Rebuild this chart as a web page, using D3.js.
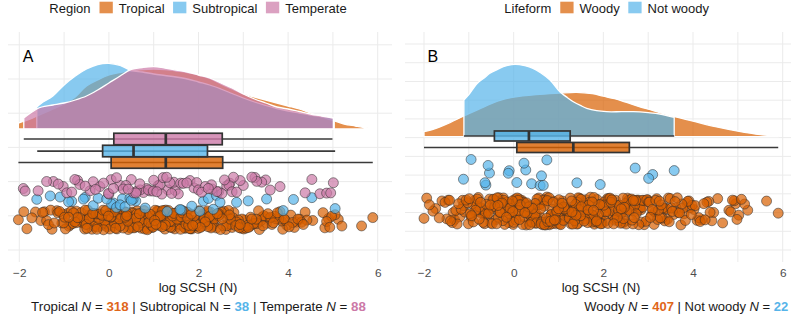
<!DOCTYPE html>
<html><head><meta charset="utf-8">
<script src="https://cdn.jsdelivr.net/npm/d3@7"></script>
<style>
body{margin:0;background:#fff}
svg{display:block}
text{font-family:"Liberation Sans",Arial,Helvetica,sans-serif}
</style>
</head><body>
<svg id="chart" width="796" height="318"></svg>
<script>
// ---------------- DATA ----------------
const axisTicks = [-2, 0, 2, 4, 6];
const regionGroups = ["Tropical", "Subtropical", "Temperate"];
const lifeformGroups = ["Woody", "Not woody"];
const regionCounts = [318, 38, 88];
const lifeformCounts = [407, 22];

const tropicalValues = [-2.02,-1.9,-1.83,-1.72,-1.64,-1.52,
-1.48,-1.44,-1.39,-1.35,-1.3,-1.27,-1.22,-1.16,-1.14,-1.1,-1.05,-1.03,-1.01,
-0.99,-0.97,-0.93,-0.9,-0.89,-0.86,-0.84,-0.8,-0.79,-0.76,-0.73,-0.72,-0.7,-0.66,-0.65,-0.62,-0.6,-0.58,-0.57,-0.54,-0.53,-0.51,
-0.49,-0.47,-0.45,-0.44,-0.41,-0.4,-0.38,-0.36,-0.35,-0.32,-0.31,-0.29,-0.27,-0.26,-0.23,-0.22,-0.2,-0.18,-0.17,-0.15,-0.13,-0.12,-0.1,-0.08,-0.07,-0.05,-0.04,-0.02,-0.01,
0.01,0.02,0.04,0.05,0.07,0.09,0.1,0.12,0.13,0.15,0.17,0.18,0.2,0.21,0.23,0.25,0.26,0.28,0.29,0.31,0.32,0.34,0.36,0.37,0.39,0.4,0.42,0.43,0.45,0.46,0.48,0.49,
0.51,0.52,0.53,0.55,0.56,0.58,0.59,0.6,0.62,0.63,0.65,0.66,0.68,0.69,0.7,0.72,0.73,0.75,0.76,0.77,0.79,0.8,0.82,0.83,0.85,0.86,0.87,0.89,0.9,0.92,0.93,0.95,0.96,0.97,0.99,
1.01,1.02,1.03,1.05,1.06,1.08,1.09,1.1,1.12,1.13,1.15,1.16,1.18,1.19,1.2,1.22,1.23,1.25,1.26,1.27,1.29,1.3,1.32,1.33,1.35,1.36,1.37,1.39,1.4,1.42,1.43,1.45,1.46,1.47,1.49,
1.51,1.52,1.54,1.55,1.57,1.58,1.6,1.61,1.63,1.64,1.66,1.67,1.69,1.7,1.72,1.73,1.75,1.76,1.78,1.79,1.81,1.82,1.84,1.85,1.87,1.88,1.9,1.91,1.93,1.94,1.96,1.97,1.99,
2.01,2.03,2.04,2.06,2.08,2.09,2.11,2.13,2.15,2.16,2.18,2.2,2.21,2.23,2.25,2.27,2.28,2.3,2.32,2.33,2.35,2.37,2.39,2.4,2.42,2.44,2.45,2.47,2.49,
2.51,2.53,2.55,2.57,2.59,2.61,2.63,2.65,2.67,2.69,2.71,2.73,2.75,2.77,2.79,2.81,2.83,2.85,2.87,2.89,2.91,2.93,2.95,2.97,2.99,
3.01,3.04,3.06,3.09,3.11,3.14,3.16,3.19,3.21,3.24,3.26,3.29,3.31,3.34,3.36,3.39,3.41,3.44,3.46,3.49,
3.52,3.55,3.58,3.61,3.64,3.67,3.7,3.73,3.76,3.79,3.82,3.85,3.88,3.91,3.94,3.97,
4.02,4.06,4.1,4.14,4.18,4.22,4.26,4.3,4.34,4.38,4.42,
4.55,4.78,4.82,4.86,4.9,4.93,4.97,5.05,5.12,5.2,5.64,5.89];

const subtropicalValues = [-1.61,-1.31,-1.09,-0.9,-0.83,-0.57,-0.53,-0.35,-0.24,-0.05,0.06,0.1,0.17,0.25,0.3,0.36,0.47,0.5,0.54,0.6,
0.81,1.3,1.59,1.62,1.85,2.03,2.11,2.22,2.33,2.4,2.48,2.85,3.11,3.52,3.89,4.12,4.53,5.05];

const temperateValues = [-1.91,-1.87,-1.58,-1.39,-1.24,-1.13,-1.02,-0.94,-0.83,-0.76,-0.7,-0.65,-0.53,-0.42,-0.35,-0.3,-0.2,-0.12,-0.01,0.0,0.05,0.1,
0.17,0.25,0.32,0.38,0.43,0.5,0.55,0.6,0.62,0.69,0.7,0.77,0.84,0.88,0.92,0.99,1.0,1.07,1.1,1.14,1.18,1.21,
1.29,1.32,1.36,1.4,1.45,1.48,1.55,1.6,1.66,1.74,1.81,1.9,1.96,2.0,2.07,2.15,2.22,2.29,2.3,2.41,2.45,2.52,
2.58,2.63,2.68,2.7,2.75,2.78,2.85,2.93,3.0,3.19,3.26,3.3,3.41,3.5,3.6,3.82,4.38,4.53,4.71,4.86,4.95,5.01];

const woodyValues = [-2.0,-1.94,-1.88,-1.8,-1.74,-1.66,-1.6,-1.53,
-1.49,-1.46,-1.43,-1.41,-1.37,-1.35,-1.32,-1.29,-1.26,-1.23,-1.2,-1.17,-1.14,-1.12,-1.09,-1.06,-1.03,-1.01,
-0.99,-0.97,-0.95,-0.94,-0.92,-0.9,-0.88,-0.86,-0.85,-0.83,-0.81,-0.79,-0.77,-0.76,-0.74,-0.72,-0.7,-0.68,-0.67,-0.65,-0.63,-0.61,-0.59,-0.58,-0.56,-0.54,-0.52,-0.51,
-0.49,-0.48,-0.46,-0.45,-0.44,-0.42,-0.41,-0.39,-0.38,-0.37,-0.35,-0.34,-0.33,-0.31,-0.3,-0.29,-0.27,-0.26,-0.24,-0.23,-0.22,-0.2,-0.19,-0.18,-0.16,-0.15,-0.14,-0.12,-0.11,-0.1,-0.08,-0.07,-0.06,-0.04,-0.03,-0.02,-0.01,
0,0.01,0.02,0.04,0.05,0.06,0.07,0.08,0.1,0.11,0.12,0.13,0.14,0.16,0.17,0.18,0.19,0.2,0.22,0.23,0.24,0.25,0.26,0.28,0.29,0.3,0.31,0.32,0.34,0.35,0.36,0.37,0.38,0.4,0.41,0.42,0.43,0.44,0.46,0.47,0.48,0.49,
0.5,0.51,0.52,0.53,0.55,0.56,0.57,0.58,0.59,0.6,0.61,0.62,0.64,0.65,0.66,0.67,0.68,0.69,0.7,0.71,0.73,0.74,0.75,0.76,0.77,0.78,0.79,0.8,0.82,0.83,0.84,0.85,0.86,0.87,0.88,0.89,0.91,0.92,0.93,0.94,0.95,0.96,0.97,0.99,
1.0,1.01,1.02,1.03,1.05,1.06,1.07,1.08,1.09,1.1,1.11,1.12,1.14,1.15,1.16,1.17,1.18,1.19,1.2,1.21,1.23,1.24,1.25,1.26,1.27,1.28,1.29,1.3,1.32,1.33,1.34,1.35,1.36,1.37,1.38,1.39,1.41,1.42,1.43,1.44,1.45,1.46,1.47,1.49,
1.5,1.51,1.52,1.53,1.55,1.56,1.57,1.58,1.59,1.6,1.61,1.62,1.64,1.65,1.66,1.67,1.68,1.69,1.7,1.71,1.73,1.74,1.75,1.76,1.77,1.78,1.79,1.8,1.82,1.83,1.84,1.85,1.86,1.87,1.88,1.89,1.91,1.92,1.93,1.94,1.95,1.96,1.97,1.99,
2.01,2.02,2.04,2.05,2.06,2.08,2.09,2.1,2.12,2.13,2.14,2.15,2.17,2.18,2.19,2.21,2.22,2.23,2.25,2.26,2.27,2.28,2.3,2.31,2.32,2.34,2.35,2.36,2.38,2.39,2.4,2.41,2.43,2.44,2.45,2.46,2.47,2.48,2.49,
2.51,2.52,2.54,2.55,2.57,2.58,2.6,2.61,2.63,2.64,2.66,2.67,2.69,2.7,2.72,2.73,2.75,2.76,2.78,2.79,2.81,2.82,2.84,2.85,2.87,2.88,2.9,2.91,2.93,2.95,2.97,2.99,
3.01,3.03,3.05,3.07,3.09,3.11,3.13,3.15,3.17,3.19,3.21,3.23,3.25,3.27,3.29,3.31,3.33,3.35,3.37,3.39,3.41,3.43,3.45,3.47,3.49,
3.52,3.54,3.57,3.6,3.62,3.65,3.67,3.7,3.73,3.75,3.78,3.8,3.83,3.86,3.88,3.91,3.93,3.96,3.98,
4.02,4.05,4.09,4.13,4.16,4.2,4.24,4.27,4.31,4.35,4.38,4.42,4.46,
4.55,4.66,4.8,4.84,4.88,4.92,4.95,4.98,5.02,5.08,5.15,5.22,5.64,5.9];

const notWoodyValues = [-1.12,-0.95,-0.64,-0.62,-0.57,-0.54,-0.12,-0.1,0.07,0.23,0.27,0.4,0.59,0.62,0.66,0.74,1.41,1.93,2.71,3.01,3.1,3.58];

// box stats: [min, q1, median, q3, max]
const tropicalBox = [-2.02, 0.05, 1.27, 2.54, 5.89];
const subtropicalBox = [-1.6, -0.14, 0.55, 2.2, 5.05];
const temperateBox = [-1.9, 0.11, 1.27, 2.53, 4.99];
const woodyBox = [-2.0, 0.07, 1.33, 2.58, 5.9];
const notWoodyBox = [-1.11, -0.43, 0.34, 1.26, 3.58];

// density curves [x, relative density]
const tropicalDensity = [[-2.02,0.06],[-1.87,0.08],[-1.75,0.10],[-1.5,0.15],[-1.25,0.20],[-1.0,0.25],[-0.75,0.32],[-0.5,0.43],[-0.25,0.49],[0,0.54],[0.25,0.565],[0.5,0.58],[0.75,0.595],[1.0,0.60],[1.25,0.595],[1.5,0.58],[1.75,0.565],[2.0,0.54],[2.25,0.505],[2.5,0.45],[2.75,0.40],[3.0,0.35],[3.25,0.32],[3.5,0.29],[3.75,0.26],[4.0,0.23],[4.25,0.20],[4.5,0.16],[4.75,0.12],[5.0,0.085],[5.25,0.05],[5.5,0.03],[5.7,0.015],[5.89,0.005]];
const subtropicalDensity = [[-1.61,0.22],[-1.5,0.26],[-1.25,0.33],[-1.0,0.44],[-0.75,0.53],[-0.5,0.60],[-0.25,0.645],[0,0.657],[0.25,0.635],[0.5,0.585],[0.75,0.57],[1.0,0.55],[1.25,0.535],[1.5,0.52],[1.75,0.50],[2.0,0.47],[2.25,0.44],[2.5,0.40],[2.75,0.355],[3.0,0.31],[3.25,0.27],[3.5,0.235],[3.75,0.205],[4.0,0.18],[4.25,0.16],[4.5,0.14],[4.75,0.125],[5.03,0.11]];
const temperateDensity = [[-1.9,0.11],[-1.75,0.16],[-1.61,0.20],[-1.5,0.22],[-1.25,0.24],[-1.0,0.26],[-0.75,0.29],[-0.5,0.33],[-0.25,0.39],[0,0.46],[0.25,0.53],[0.5,0.597],[0.75,0.615],[1.0,0.623],[1.25,0.61],[1.5,0.59],[1.75,0.57],[2.0,0.54],[2.25,0.51],[2.5,0.46],[2.75,0.41],[3.0,0.35],[3.25,0.30],[3.5,0.26],[3.75,0.22],[4.0,0.20],[4.25,0.175],[4.5,0.15],[4.75,0.13],[5.01,0.11]];
const woodyDensity = [[-2.0,0.05],[-1.75,0.08],[-1.5,0.125],[-1.1,0.21],[-0.75,0.28],[-0.5,0.33],[-0.25,0.37],[0,0.395],[0.5,0.42],[1.0,0.435],[1.4,0.444],[1.75,0.43],[2.0,0.405],[2.25,0.38],[2.5,0.345],[2.8,0.30],[3.0,0.275],[3.5,0.21],[4.0,0.155],[4.5,0.10],[5.0,0.055],[5.5,0.02],[5.9,0.005]];
const notWoodyDensity = [[-1.11,0.367],[-1.0,0.42],[-0.82,0.53],[-0.65,0.59],[-0.53,0.634],[-0.35,0.675],[-0.23,0.70],[0.03,0.724],[0.25,0.71],[0.43,0.684],[0.6,0.64],[0.81,0.567],[1.03,0.45],[1.2,0.39],[1.33,0.35],[1.5,0.31],[1.63,0.284],[1.85,0.26],[2.07,0.25],[2.4,0.25],[2.67,0.25],[3.0,0.24],[3.26,0.227],[3.58,0.194]];

// ---------------- STYLE ----------------
const ORANGE = "#D86000", BLUE = "#56B4E9", PINK = "#CC79A7";
const svg = d3.select("#chart");

// deterministic integer hash -> [0,1), used only for jitter placement / draw order
function hash01(i, salt) {
  let h = (Math.imul(i + 1, 2654435761) ^ Math.imul(salt + 7, 40503)) >>> 0;
  h ^= h >>> 16; h = Math.imul(h, 0x45d9f3b) >>> 0;
  h ^= h >>> 16; h = Math.imul(h, 0x45d9f3b) >>> 0;
  h ^= h >>> 16;
  return (h >>> 0) / 4294967296;
}

const panels = [
  { label: "A", left: 8, right: 392, top: 32, bottom: 262, xRange: [19.3, 377.7],
    yDomain: [0, 3], yRange: [250, 44.8], yGrid: d3.range(0, 3.01, 0.5),
    slabBase: 1.769, boxHalf: 0.084, titleX: 198,
    groups: [
      { values: tropicalValues, density: tropicalDensity, box: tropicalBox, color: ORANGE, boxY: 1.279, ptY: 0.439, ptJ: 0.146, salt: 1 },
      { values: subtropicalValues, density: subtropicalDensity, box: subtropicalBox, color: BLUE, boxY: 1.447, ptY: 0.68, ptJ: 0.124, salt: 2 },
      { values: temperateValues, density: temperateDensity, box: temperateBox, color: PINK, boxY: 1.623, ptY: 0.936, ptJ: 0.13, salt: 3 }
    ] },
  { label: "B", left: 405, right: 791, top: 32, bottom: 262, xRange: [424, 782.7],
    yDomain: [0, 5.5], yRange: [250, 44], yGrid: d3.range(0, 5.51, 0.5),
    slabBase: 3.025, boxHalf: 0.134, titleX: 601,
    groups: [
      { values: woodyValues, density: woodyDensity, box: woodyBox, color: ORANGE, boxY: 2.737, ptY: 1.041, ptJ: 0.374, salt: 4 },
      { values: notWoodyValues, density: notWoodyDensity, box: notWoodyBox, color: BLUE, boxY: 3.044, ptY: 2.069, ptJ: 0.374, salt: 5 }
    ] }
];

const hScale = d3.scaleLinear().domain([0, 1]).range([0, 100]);

panels.forEach(p => {
  const g = svg.append("g");
  const x = d3.scaleLinear().domain([-2, 6]).range(p.xRange);
  const y = d3.scaleLinear().domain(p.yDomain).range(p.yRange);
  // grid
  g.selectAll(null).data(d3.range(-2, 6.01, 1)).join("line")
    .attr("x1", d => x(d)).attr("x2", d => x(d)).attr("y1", p.top).attr("y2", p.bottom)
    .attr("stroke", "#EBEBEB").attr("stroke-width", 1);
  g.selectAll(null).data(p.yGrid).join("line")
    .attr("x1", p.left).attr("x2", p.right).attr("y1", d => y(d)).attr("y2", d => y(d))
    .attr("stroke", "#EBEBEB").attr("stroke-width", 1);
  // panel label
  g.append("text").attr("x", x(-2) + 3.5).attr("y", 61.7).attr("font-size", 16).attr("fill", "#000").text(p.label);
  // densities
  const base = y(p.slabBase);
  p.groups.forEach(gr => {
    const area = d3.area().x(d => x(d[0])).y0(base).y1(d => base - hScale(d[1])).curve(d3.curveCatmullRom.alpha(0.5));
    g.append("path").datum(gr.density).attr("d", area)
      .attr("fill", gr.color).attr("fill-opacity", 0.7)
      .attr("stroke", "#fff").attr("stroke-width", 1.3).attr("stroke-linejoin", "round");
  });
  // boxplots
  p.groups.forEach(gr => {
    const [mn, q1, md, q3, mx] = gr.box;
    const cy = y(gr.boxY);
    const top = y(gr.boxY + p.boxHalf), bot = y(gr.boxY - p.boxHalf);
    g.append("line").attr("x1", x(mn)).attr("x2", x(mx)).attr("y1", cy).attr("y2", cy)
      .attr("stroke", "#3a3a3a").attr("stroke-width", 1.7);
    g.append("rect").attr("x", x(q1)).attr("y", top).attr("width", x(q3) - x(q1)).attr("height", bot - top)
      .attr("fill", gr.color).attr("fill-opacity", 0.8).attr("stroke", "#333").attr("stroke-width", 1.7);
    g.append("line").attr("x1", x(md)).attr("x2", x(md)).attr("y1", top).attr("y2", bot)
      .attr("stroke", "#333").attr("stroke-width", 2.7);
  });
  // points (jittered vertically, drawn in scrambled order like unsorted raw data)
  p.groups.forEach(gr => {
    const pts = gr.values.map((v, i) => ({ v, j: 2 * hash01(i, gr.salt) - 1, o: hash01(i, gr.salt + 50) }));
    pts.sort((a, b) => a.o - b.o);
    g.append("g").selectAll("circle").data(pts).join("circle")
      .attr("cx", d => x(d.v))
      .attr("cy", d => y(gr.ptY + gr.ptJ * d.j))
      .attr("r", 5)
      .attr("fill", gr.color).attr("fill-opacity", 0.7)
      .attr("stroke", "#2b2b2b").attr("stroke-opacity", 0.65).attr("stroke-width", 0.8);
  });
  // axis
  const axis = d3.axisBottom(x).tickValues(axisTicks).tickSize(0).tickPadding(0)
    .tickFormat(d => d < 0 ? "\u2212" + Math.abs(d) : String(d));
  const ag = g.append("g").attr("transform", "translate(0,268.3)").call(axis);
  ag.select(".domain").remove();
  ag.selectAll("text").attr("font-size", 11.8).attr("fill", "#4D4D4D")
    .attr("font-family", '"Liberation Sans", Arial, sans-serif');
  g.append("text").attr("x", p.titleX).attr("y", 292).attr("text-anchor", "middle")
    .attr("font-size", 13).attr("fill", "#1a1a1a").text("log SCSH (N)");
});

// legends
function legend(startX, title, names, colors) {
  const g = svg.append("g");
  let cx = startX;
  const t = g.append("text").attr("x", cx).attr("y", 12.5).attr("font-size", 13).attr("fill", "#1a1a1a").text(title);
  cx += t.node().getComputedTextLength() + 9;
  names.forEach((n, i) => {
    g.append("rect").attr("x", cx).attr("y", 1.7).attr("width", 13.3).attr("height", 11.6)
      .attr("fill", colors[i]).attr("fill-opacity", 0.7);
    cx += 13.3 + 6;
    const tx = g.append("text").attr("x", cx).attr("y", 12.5).attr("font-size", 13).attr("fill", "#1a1a1a").text(n);
    cx += tx.node().getComputedTextLength() + 8.5;
  });
}
legend(49.3, "Region", regionGroups, [ORANGE, BLUE, PINK]);
legend(504.3, "Lifeform", lifeformGroups, [ORANGE, BLUE]);

// captions
function caption(x, anchor, size, parts) {
  const t = svg.append("text").attr("x", x).attr("y", 311).attr("font-size", size)
    .attr("text-anchor", anchor).attr("fill", "#1a1a1a");
  parts.forEach(pt => {
    const s = t.append("tspan").text(pt.t);
    if (pt.i) s.attr("font-style", "italic");
    if (pt.b) s.attr("font-weight", "bold").attr("fill", pt.c);
  });
}
caption(198.5, "middle", 13.3, [
  { t: regionGroups[0] + " " }, { t: "N", i: 1 }, { t: " = " }, { t: String(regionCounts[0]), b: 1, c: "#E0661A" },
  { t: " | " + regionGroups[1] + " N = " }, { t: String(regionCounts[1]), b: 1, c: "#56B4E9" },
  { t: " | " + regionGroups[2] + " " }, { t: "N", i: 1 }, { t: " = " }, { t: String(regionCounts[2]), b: 1, c: "#CC79A7" }
]);
caption(788.3, "end", 13, [
  { t: lifeformGroups[0] + " " }, { t: "N", i: 1 }, { t: " = " }, { t: String(lifeformCounts[0]), b: 1, c: "#E0661A" },
  { t: " | " + lifeformGroups[1] + " " }, { t: "N", i: 1 }, { t: " = " }, { t: String(lifeformCounts[1]), b: 1, c: "#56B4E9" }
]);
</script>
</body></html>
